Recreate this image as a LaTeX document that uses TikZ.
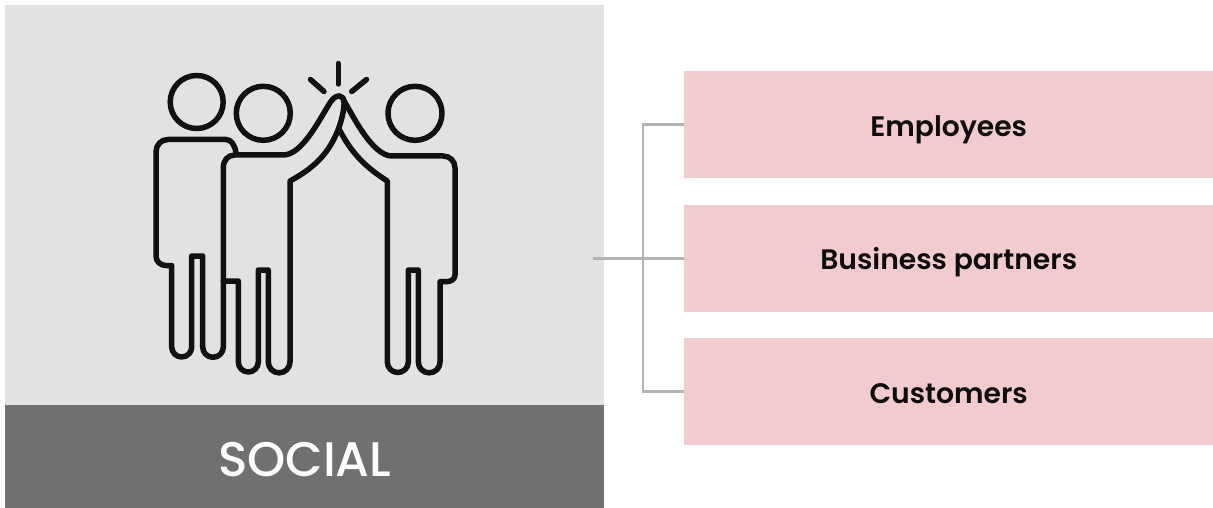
\documentclass[tikz,border=0pt]{standalone}
\usepackage{fontspec}
\setmainfont{Poppins SemiBold}
\newfontfamily\barfont{Poppins Medium}
\definecolor{panelgrey}{HTML}{E2E2E0}
\definecolor{bargrey}{HTML}{707070}
\definecolor{boxpink}{HTML}{F2CBCF}
\definecolor{linkgrey}{HTML}{B3B3B3}
\definecolor{inkblack}{HTML}{111111}
\tikzset{
  pinkbox/.style={fill=boxpink,draw=none,minimum width=529pt,minimum height=107pt,inner sep=0pt,anchor=north west,text depth=5pt,font=\fontsize{28.2}{32}\selectfont,text=black!95},
  link/.style={draw=linkgrey,line width=2.5pt},
  icon/.style={draw=inkblack,line width=5.5pt,line join=round,line cap=round}
}
\begin{document}
\begin{tikzpicture}[x=1pt,y=-1pt]
\useasboundingbox (0,0) rectangle (1213,508);
\fill[white] (0,0) rectangle (1213,508);
\node[fill=panelgrey,minimum width=599pt,minimum height=400pt,inner sep=0pt,anchor=north west] (panel) at (5,5) {};
\node[fill=bargrey,minimum width=599pt,minimum height=103pt,inner sep=0pt,anchor=north west,text=white,text height=45pt,text depth=5pt,font=\barfont\fontsize{48.6}{50}\selectfont] (bar) at (5,405) {SOCIAL};
\node[pinkbox,text height=29pt] (emp) at (684,71) {Employees};
\node[pinkbox,text height=26pt] (bus) at (684,205) {Business partners};
\node[pinkbox,text height=28pt] (cus) at (684,338) {Customers};
\coordinate (start) at (593,258.5);
\coordinate (trunk) at (643,258.5);
\draw[link] (start |- bus.west) -- (bus.west);
\draw[link] (emp.west) -- (trunk |- emp.west) -- (trunk |- cus.west) -- (cus.west);
% heads
\draw[icon] (196.7,102) circle[radius=26.5pt];
\draw[icon] (263.3,113.3) circle[radius=27pt];
\draw[icon] (415,113.3) circle[radius=27pt];
% sparks
\draw[icon] (338.3,63.5) -- (338.3,84);
\draw[icon] (310.5,79.5) -- (324,91.5);
\draw[icon] (366.5,79.5) -- (351.7,91.5);
% person 1
\draw[icon] (236,153) .. controls (235,145) and (231,139.5) .. (226,139.5) -- (168,139.5)
  .. controls (161,139.5) and (156,145) .. (156,152) -- (156,256)
  .. controls (156,262) and (161,265.5) .. (166,265.5) -- (171.7,265.5) -- (171.7,347)
  arc[start angle=180,end angle=360,radius=10pt] -- (191.7,256) -- (202.7,256) -- (202.7,347)
  arc[start angle=180,end angle=360,radius=10.3pt] -- (223.3,281);
% person 2
\draw[icon] (223.3,280) -- (223.3,168) .. controls (223.3,160) and (228,155) .. (235,155)
  -- (283,155) .. controls (300,155) and (315,128) .. (328,106)
  .. controls (333,97) and (339,93) .. (343,98) .. controls (346,103) and (342,120) .. (338,130)
  .. controls (330,150) and (318,166) .. (290,181) -- (290,362)
  arc[start angle=360,end angle=180,radius=10.85pt] -- (268.3,270) -- (258.3,270) -- (258.3,362)
  arc[start angle=360,end angle=180,radius=10pt] -- (238.3,281) -- (223.3,281);
% person 3
\draw[icon] (343,99) .. controls (352,114) and (372,156) .. (392,156) -- (443,156)
  .. controls (450,156) and (455,161) .. (455,168) -- (455,275)
  .. controls (455,280) and (450,281.7) .. (446,281.7) -- (440,281.7) -- (440,362)
  arc[start angle=360,end angle=180,radius=10.85pt] -- (418.3,270) -- (408.3,270) -- (408.3,362)
  arc[start angle=360,end angle=180,radius=10.5pt] -- (387.3,181)
  .. controls (362,165) and (350,150) .. (339,129);
\end{tikzpicture}
\end{document}
